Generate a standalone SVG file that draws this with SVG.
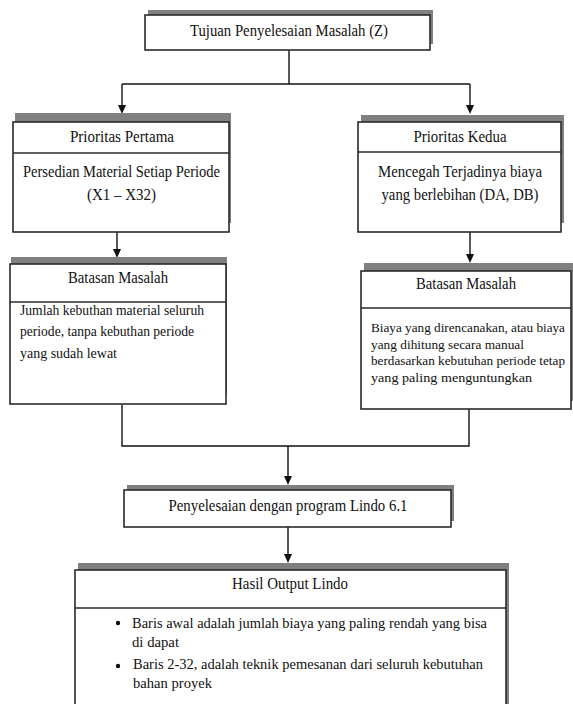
<svg xmlns="http://www.w3.org/2000/svg" width="573" height="704" viewBox="0 0 573 704">
<defs>
<style>
.sh{fill:#808080}
.bx{fill:#fff;stroke:#2a2a2a;stroke-width:1.6}
.dv{fill:none;stroke:#2a2a2a;stroke-width:1.6}
.ln{fill:none;stroke:#111;stroke-width:1.4}
.ah{fill:#111}
.t{font-family:"Liberation Serif","Times New Roman",serif;font-size:16px;fill:#111}
.c{text-anchor:middle}
.s{font-size:15px}
.r{font-size:13.3px}
</style>
</defs>
<rect width="573" height="704" fill="#fff"/>

<g id="connectors">
<path class="ln" d="M289,50 V84"/>
<path class="ln" d="M122,84 H470"/>
<path class="ln" d="M122,84 V106"/>
<path class="ah" d="M118,105 L126,105 L122,114 Z"/>
<path class="ln" d="M470,84 V106"/>
<path class="ah" d="M466,105 L474,105 L470,114 Z"/>
<path class="ln" d="M117,232 V250"/>
<path class="ah" d="M113,249 L121,249 L117,258 Z"/>
<path class="ln" d="M470,232 V255"/>
<path class="ah" d="M466,254 L474,254 L470,263 Z"/>
<path class="ln" d="M122,405 V446 H469 V409"/>
<path class="ln" d="M288,446 V477"/>
<path class="ah" d="M284,476 L292,476 L288,485 Z"/>
<path class="ln" d="M288,527 V555"/>
<path class="ah" d="M284,554 L292,554 L288,563 Z"/>
</g>

<g id="tujuan">
<rect class="sh" x="148" y="10" width="285" height="34"/>
<rect class="bx" x="145" y="15" width="285" height="35"/>
<text class="t c" x="289" y="36" textLength="198" lengthAdjust="spacingAndGlyphs">Tujuan Penyelesaian Masalah (Z)</text>
</g>

<g id="prioritas-pertama">
<rect class="sh" x="15" y="113" width="216" height="110"/>
<rect class="bx" x="13" y="122" width="216" height="110"/>
<path class="dv" d="M13,153 H229"/>
<text class="t c" x="122" y="142" textLength="104" lengthAdjust="spacingAndGlyphs">Prioritas Pertama</text>
<text class="t c" x="121.5" y="177" textLength="197" lengthAdjust="spacingAndGlyphs">Persedian Material Setiap Periode</text>
<text class="t c" x="121.5" y="200" textLength="69" lengthAdjust="spacingAndGlyphs">(X1 – X32)</text>
</g>

<g id="prioritas-kedua">
<rect class="sh" x="361" y="115" width="203" height="108"/>
<rect class="bx" x="358" y="122" width="203" height="110"/>
<path class="dv" d="M358,152 H561"/>
<text class="t c" x="460" y="142" textLength="93" lengthAdjust="spacingAndGlyphs">Prioritas Kedua</text>
<text class="t c" x="460" y="177" textLength="164" lengthAdjust="spacingAndGlyphs">Mencegah Terjadinya biaya</text>
<text class="t c" x="460" y="200" textLength="157" lengthAdjust="spacingAndGlyphs">yang berlebihan (DA, DB)</text>
</g>

<g id="batasan-kiri">
<rect class="sh" x="11" y="257" width="216" height="138"/>
<rect class="bx" x="10" y="264" width="216" height="140"/>
<path class="dv" d="M10,302 H226"/>
<text class="t c" x="118" y="283" textLength="100" lengthAdjust="spacingAndGlyphs">Batasan Masalah</text>
<text class="t s" x="20" y="315" textLength="184" lengthAdjust="spacingAndGlyphs">Jumlah kebuthan material seluruh</text>
<text class="t s" x="20" y="336" textLength="174" lengthAdjust="spacingAndGlyphs">periode, tanpa kebuthan periode</text>
<text class="t s" x="20" y="358" textLength="97" lengthAdjust="spacingAndGlyphs">yang sudah lewat</text>
</g>

<g id="batasan-kanan">
<rect class="sh" x="364" y="263" width="209" height="138"/>
<rect class="bx" x="361" y="271" width="210" height="138"/>
<path class="dv" d="M361,308 H571"/>
<text class="t c" x="466" y="289" textLength="100" lengthAdjust="spacingAndGlyphs">Batasan Masalah</text>
<text class="t r" x="371" y="332" textLength="194" lengthAdjust="spacingAndGlyphs">Biaya yang direncanakan, atau biaya</text>
<text class="t r" x="371" y="349" textLength="153" lengthAdjust="spacingAndGlyphs">yang dihitung secara manual</text>
<text class="t r" x="371" y="365" textLength="194" lengthAdjust="spacingAndGlyphs">berdasarkan kebutuhan periode tetap</text>
<text class="t r" x="371" y="382" textLength="161" lengthAdjust="spacingAndGlyphs">yang  paling  menguntungkan</text>
</g>

<g id="lindo">
<rect class="sh" x="127" y="485" width="327" height="36"/>
<rect class="bx" x="124" y="490" width="327" height="37"/>
<text class="t c" x="288" y="511" textLength="239" lengthAdjust="spacingAndGlyphs">Penyelesaian dengan program Lindo 6.1</text>
</g>

<g id="hasil">
<rect class="sh" x="78" y="563" width="431" height="145"/>
<rect class="bx" x="75" y="570" width="431" height="145"/>
<path class="dv" d="M75,608 H506"/>
<text class="t c" x="290" y="589" textLength="116" lengthAdjust="spacingAndGlyphs">Hasil Output Lindo</text>
<circle cx="118" cy="623" r="2.2" fill="#111"/>
<text class="t s" x="132" y="628" textLength="355" lengthAdjust="spacingAndGlyphs">Baris awal adalah jumlah biaya yang paling rendah yang bisa</text>
<text class="t s" x="132" y="647" textLength="47" lengthAdjust="spacingAndGlyphs">di dapat</text>
<circle cx="118" cy="666" r="2.2" fill="#111"/>
<text class="t s" x="133" y="669" textLength="350" lengthAdjust="spacingAndGlyphs">Baris 2-32, adalah teknik pemesanan dari seluruh kebutuhan</text>
<text class="t s" x="133" y="688" textLength="79" lengthAdjust="spacingAndGlyphs">bahan proyek</text>
</g>
</svg>
